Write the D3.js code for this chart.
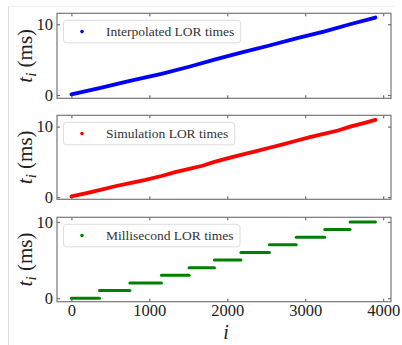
<!DOCTYPE html>
<html lang="en">
<head>
	<meta charset="utf-8">
	<title>LOR times</title>
	<script src="https://d3js.org/d3.v7.min.js"></script>
	<style type="text/css">
		body { margin: 0; background: #fff; }
		.axis path, .axis line { fill: none; stroke: #555; }
		.axis text { font-family: "Liberation Serif", "Times New Roman", serif; font-size: 16.5px; fill: #222; }
		.legend text { font-family: "Liberation Serif", "Times New Roman", serif; font-size: 13.5px; fill: #333; }
	</style>
</head>
<body>
<script type="text/javascript">

	// LOR index and time values
	var interpIdx = [0, 360, 750, 1155, 1510, 1835, 2175, 2540, 2885, 3250, 3575, 3900];
	var interpT   = [0.1, 1.0, 2.0, 3.0, 4.0, 5.0, 6.0, 7.0, 8.0, 9.0, 10.0, 10.95];

	var simIdx = [0, 180, 360, 560, 750, 950, 1155, 1330, 1510, 1680, 1835, 2000, 2175, 2360, 2540, 2700, 2885, 3060, 3250, 3420, 3575, 3750, 3900];
	var simT   = [0.12, 0.55, 1.0, 1.55, 2.0, 2.45, 3.0, 3.55, 4.0, 4.45, 5.0, 5.5, 6.0, 6.5, 7.0, 7.45, 8.0, 8.5, 9.0, 9.45, 10.0, 10.5, 10.95];

	// millisecond (floored) times: one step per level
	var msLevel = [0, 1, 2, 3, 4, 5, 6, 7, 8, 9, 10];
	var msStart = [0, 360, 750, 1155, 1510, 1835, 2175, 2540, 2885, 3250, 3575];
	var msEnd   = [360, 750, 1155, 1510, 1835, 2175, 2540, 2885, 3250, 3575, 3900];

	var xTicks = [0, 1000, 2000, 3000, 4000];
	var yTicks = [0, 10];

	var width = 402, height = 345;
	var left = 57, right = 391;
	var serif = "'Liberation Serif', 'Times New Roman', serif";

	var svg = d3.select("body").append("svg")
		.attr("width", width)
		.attr("height", height);

	// light frame around the figure
	svg.append("line").attr("x1", 8.5).attr("x2", 8.5).attr("y1", 6).attr("y2", height).attr("stroke", "#ddd");
	svg.append("line").attr("x1", 8).attr("x2", 394).attr("y1", 6.5).attr("y2", 6.5).attr("stroke", "#eee");

	var xScale = d3.scaleLinear().domain([-185, 4100]).range([left, right]);

	var panels = [
		{top: 13.3, bottom: 98.3, domain: [-0.45, 11.55], color: "#0000ff", label: "Interpolated LOR times", idx: interpIdx, t: interpT},
		{top: 115.3, bottom: 199.3, domain: [-0.3, 11.6], color: "#ff0000", label: "Simulation LOR times", idx: simIdx, t: simT},
		{top: 217.3, bottom: 301.7, domain: [-0.45, 10.6], color: "#008000", label: "Millisecond LOR times", steps: true}
	];

	panels.forEach(function(p, k) {
		var yScale = d3.scaleLinear().domain(p.domain).range([p.bottom, p.top]);
		var g = svg.append("g");

		// data
		if (p.steps) {
			g.selectAll("line.step")
				.data(msLevel)
				.enter()
				.append("line")
				.attr("class", "step")
				.attr("x1", function(d, i) { return xScale(msStart[i]); })
				.attr("x2", function(d, i) { return xScale(msEnd[i]); })
				.attr("y1", function(d) { return yScale(d); })
				.attr("y2", function(d) { return yScale(d); })
				.attr("stroke", p.color)
				.attr("stroke-width", 3)
				.attr("stroke-linecap", "round");
		} else {
			var pts = p.idx.map(function(d, i) { return [d, p.t[i]]; });
			var line = d3.line()
				.x(function(d) { return xScale(d[0]); })
				.y(function(d) { return yScale(d[1]); });
			g.append("path")
				.datum(pts)
				.attr("d", line)
				.attr("fill", "none")
				.attr("stroke", p.color)
				.attr("stroke-width", 3.8)
				.attr("stroke-linecap", "round")
				.attr("stroke-linejoin", "round");
		}

		// axes (ticks inward on all sides)
		var bottomAx = g.append("g").attr("class", "axis")
			.attr("transform", "translate(0," + p.bottom + ")")
			.call(d3.axisBottom(xScale).tickValues(xTicks).tickFormat(d3.format("d"))
				.tickSizeInner(-3).tickSizeOuter(0).tickPadding(2.5));
		if (k < 2) bottomAx.selectAll("text").remove();
		g.append("g").attr("class", "axis")
			.attr("transform", "translate(0," + p.top + ")")
			.call(d3.axisTop(xScale).tickValues(xTicks).tickSizeInner(-3).tickSizeOuter(0))
			.selectAll("text").remove();
		g.append("g").attr("class", "axis")
			.attr("transform", "translate(" + left + ",0)")
			.call(d3.axisLeft(yScale).tickValues(yTicks).tickFormat(d3.format("d"))
				.tickSizeInner(-3).tickSizeOuter(0).tickPadding(4));
		g.append("g").attr("class", "axis")
			.attr("transform", "translate(" + right + ",0)")
			.call(d3.axisRight(yScale).tickValues(yTicks).tickSizeInner(-3).tickSizeOuter(0))
			.selectAll("text").remove();
		g.selectAll(".axis .domain").remove();

		// spines
		g.append("rect")
			.attr("x", left).attr("y", p.top)
			.attr("width", right - left).attr("height", p.bottom - p.top)
			.attr("fill", "none").attr("stroke", "#777").attr("stroke-width", 1.2);

		// legend
		var lg = g.append("g").attr("class", "legend");
		var box = lg.append("rect")
			.attr("x", 63.5).attr("y", p.top + 7)
			.attr("height", 22.5).attr("rx", 3)
			.attr("fill", "#fff").attr("fill-opacity", 0.8)
			.attr("stroke", "#ddd");
		lg.append("circle")
			.attr("cx", 82).attr("cy", p.top + 18.3).attr("r", 1.8)
			.attr("fill", p.color);
		var txt = lg.append("text")
			.attr("x", 106).attr("y", p.top + 23)
			.text(p.label);
		box.attr("width", txt.node().getComputedTextLength() + 49);

		// y label
		var yl = g.append("text")
			.attr("transform", "translate(32," + ((p.top + p.bottom) / 2) + ") rotate(-90)")
			.attr("text-anchor", "middle")
			.style("font-family", serif)
			.style("font-size", "21px")
			.attr("fill", "#222");
		yl.append("tspan").style("font-style", "italic").text("t");
		yl.append("tspan").style("font-style", "italic").style("font-size", "15px").attr("dy", 4).text("i");
		yl.append("tspan").attr("dy", -4).text(" (ms)");
	});

	// x label
	svg.append("text")
		.attr("x", (left + right) / 2 + 2).attr("y", 339)
		.attr("text-anchor", "middle")
		.style("font-family", serif)
		.style("font-size", "20px")
		.style("font-style", "italic")
		.attr("fill", "#222")
		.text("i");

</script>
</body>
</html>
